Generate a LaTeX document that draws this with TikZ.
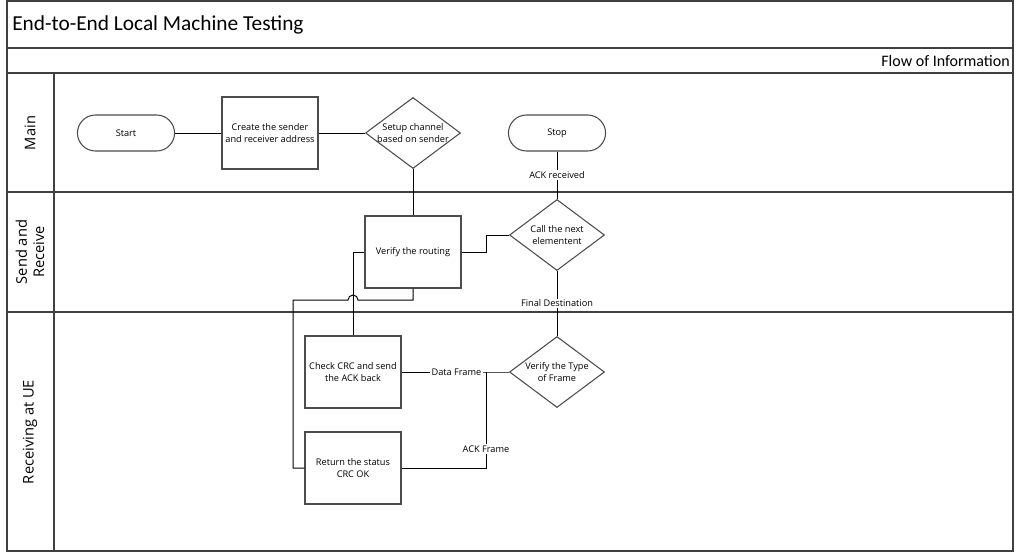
\documentclass[tikz,border=0pt]{standalone}
\usepackage{fontspec}
\setmainfont{Carlito}
\newfontfamily\nodefont{Open Sans}
\usetikzlibrary{shapes.geometric,shapes.misc}
\tikzset{
  frame/.style={draw=black!75, line width=1.1pt},
  procbox/.style={rectangle, draw=black!70, line width=0.9pt, fill=white, minimum width=72pt, minimum height=54pt, inner sep=1pt, align=center, font=\nodefont\fontsize{6.9}{9}\selectfont},
  decision/.style={diamond, draw=black!70, line width=0.8pt, fill=white, minimum width=71.25pt, minimum height=53.25pt, inner sep=0pt},
  dectext/.style={font=\nodefont\fontsize{6.9}{9}\selectfont, align=center},
  term/.style={rounded rectangle, draw=black!70, line width=0.8pt, fill=white, minimum width=79.5pt, minimum height=27pt, font=\nodefont\fontsize{6.9}{9}\selectfont},
  conn/.style={draw=black, line width=0.75pt},
  clabel/.style={fill=white, inner sep=1pt, font=\nodefont\fontsize{6.9}{9}\selectfont},
  lanelabel/.style={rotate=90, align=center, font=\nodefont\fontsize{11}{13}\selectfont},
}
\begin{document}
\begin{tikzpicture}[x=0.75pt, y=-0.75pt]
\useasboundingbox (0,0) rectangle (1019,553);
% frame
\draw[frame] (7,1) rectangle (1013,551);
\draw[frame] (7,48) -- (1013,48);
\draw[frame] (7,73) -- (1013,73);
\draw[frame] (7,192) -- (1013,192);
\draw[frame] (7,312) -- (1013,312);
\draw[frame] (54,73) -- (54,551);
\node[anchor=west, font=\fontsize{16}{18}\selectfont, inner sep=0pt] (title) at (12,25) {End-to-End Local Machine Testing};
\node[anchor=east, font=\fontsize{12}{14}\selectfont, inner sep=0pt] (flow) at (1010,61) {Flow of Information};
\node[lanelabel] (lmain) at (30,133) {Main};
\node[lanelabel] (lsend) at (30,252) {Send and\\Receive};
\node[lanelabel] (lrecv) at (30,432) {Receiving at UE};
% nodes
\node[term] (start) at (126,133) {Start};
\node[procbox] (create) at (270,133) {Create the sender\\and receiver address};
\node[decision, label={[dectext]center:Setup channel\\based on sender}] (setup) at (413,133) {};
\node[term] (stop) at (557,133) {Stop};
\node[procbox] (verify) at (413,252) {Verify the routing};
\node[decision, label={[dectext]center:Call the next\\elementent}] (call) at (557,235) {};
\node[procbox] (check) at (353,372) {Check CRC and send\\the ACK back};
\node[decision, label={[dectext]center:Verify the Type\\of Frame}] (vtype) at (557,372) {};
\node[procbox] (ret) at (353,468) {Return the status\\CRC OK};
% connectors
\coordinate (j1) at (486,252);
\coordinate (j2) at (486,235);
\coordinate (j3) at (486,372);
\coordinate (j4) at (486,468);
\coordinate (k1) at (293,468);
\coordinate (k2) at (293,300);
\coordinate (k3) at (413,300);
\coordinate (h1) at (348,300);
\coordinate (c1) at (353,252);
\draw[conn] (start.east) -- (create.west);
\draw[conn] (create.east) -- (setup.west);
\draw[conn] (setup.south) -- (verify.north);
\draw[conn] (verify.east) -- (j1) -- (j2) -- (call.west);
\draw[conn] (call.north) -- node[clabel, pos=0.5] (lack) {ACK received} (stop.south);
\draw[conn] (call.south) -- node[clabel, pos=0.5] (lfinal) {Final Destination} (vtype.north);
\draw[conn] (vtype.west) -- (j3) -- node[clabel, pos=0.35] (ldata) {Data Frame} (check.east);
\draw[conn] (j3) -- (j4) -- (ret.east);
\node[clabel] (lackf) at (486,449) {ACK Frame};
\draw[conn] (check.north) -- (c1) -- (verify.west);
\draw[conn] (ret.west) -- (k1) -- (k2) -- (h1) arc[start angle=180, end angle=0, radius=3.75pt] -- (k3) -- (verify.south);
\end{tikzpicture}
\end{document}
